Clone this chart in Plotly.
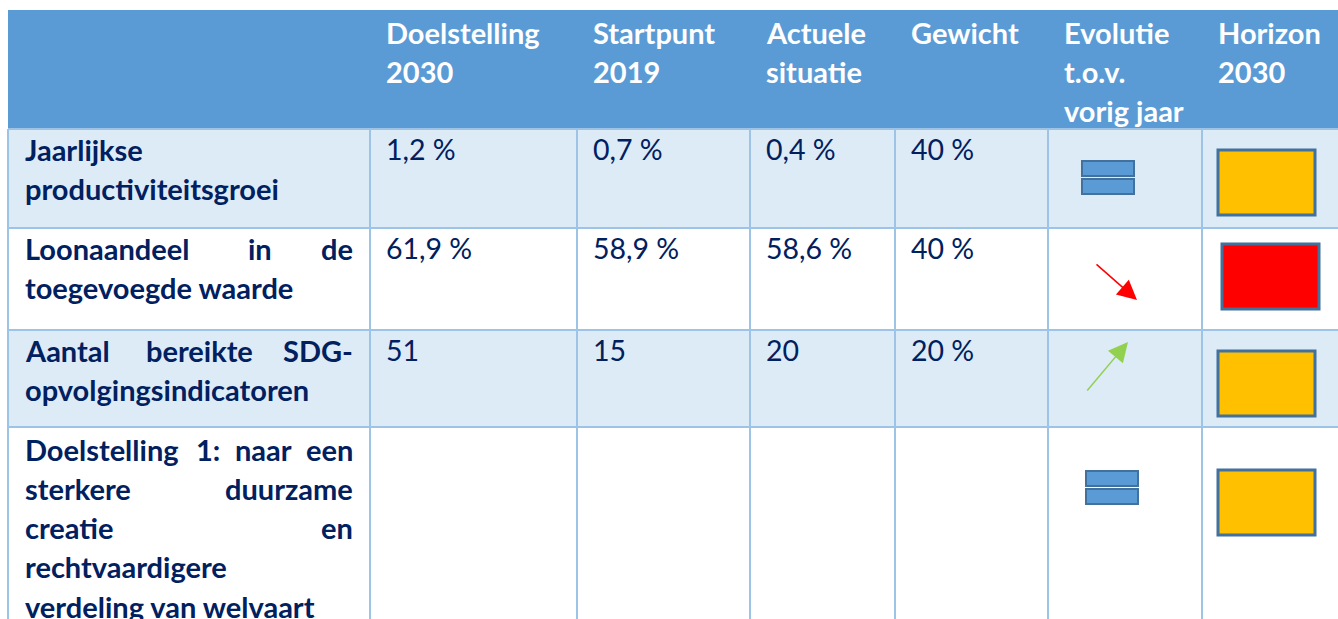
import plotly.graph_objects as go

# ---------------- data ----------------
headers = [
    "",
    ["Doelstelling", "2030"],
    ["Startpunt", "2019"],
    ["Actuele", "situatie"],
    ["Gewicht"],
    ["Evolutie", "t.o.v.", "vorig jaar"],
    ["Horizon", "2030"],
]
indicators = [
    ["Jaarlijkse", "productiviteitsgroei"],
    ["Loonaandeel in de", "toegevoegde waarde"],
    ["Aantal bereikte SDG-", "opvolgingsindicatoren"],
    ["Doelstelling 1: naar een", "sterkere duurzame", "creatie en",
     "rechtvaardigere", "verdeling van welvaart"],
]
# which label lines are justified (not paragraph ends)
justified = [
    [False, False],
    [True, False],
    [True, False],
    [True, True, True, False, False],
]
doelstelling_2030 = ["1,2 %", "61,9 %", "51", ""]
startpunt_2019 = ["0,7 %", "58,9 %", "15", ""]
actuele_situatie = ["0,4 %", "58,6 %", "20", ""]
gewicht = ["40 %", "40 %", "20 %", ""]
evolutie = ["gelijk", "daling", "stijging", "gelijk"]
horizon = ["oranje", "rood", "oranje", "oranje"]

# ---------------- styling / layout ----------------
W, H = 1338, 619
HEADER_BG = "#5B9BD5"
BAND_BG = "#DDEBF7"
GRID = "#9DC3E6"
NAVY = "#002060"
FONT = "Lato"
FS = 29
FS_VAL = 28.5

col_edges = [8, 370, 577, 750, 895, 1048, 1202, 1345]
row_edges = [10, 129, 228, 330, 427, 640]
row_bg = [BAND_BG, "white", BAND_BG, "white"]
row_text_off = [20, 20, 20, 22]
line_h = 39.3
pad_x = 14
horizon_colors = {"oranje": "#FFC000", "rood": "#FF0000"}

shapes = []
annotations = []

# header
shapes.append(dict(type="rect", x0=col_edges[0], x1=col_edges[-1], y0=row_edges[0], y1=row_edges[1],
                   fillcolor=HEADER_BG, line_width=0, layer="below"))
for ci, h in enumerate(headers):
    if not h:
        continue
    for li, t in enumerate(h):
        annotations.append(dict(x=col_edges[ci] + pad_x, y=row_edges[0] + 22 + li * line_h, text=f"<b>{t}</b>",
                                xanchor="left", yanchor="middle", showarrow=False,
                                font=dict(family=FONT, size=FS, color="white")))

# body rows backgrounds
for ri in range(len(indicators)):
    shapes.append(dict(type="rect", x0=col_edges[0], x1=col_edges[-1], y0=row_edges[ri + 1], y1=row_edges[ri + 2],
                       fillcolor=row_bg[ri], line_width=0, layer="below"))

# grid lines
for y in row_edges[1:-1]:
    shapes.append(dict(type="line", x0=col_edges[0], x1=col_edges[-1], y0=y, y1=y,
                       line=dict(color=GRID, width=2)))
for x in col_edges[:-1]:
    shapes.append(dict(type="line", x0=x, x1=x, y0=row_edges[1], y1=row_edges[-1],
                       line=dict(color=GRID, width=2)))


def est_width(word, size):
    w = 0
    for ch in word:
        if ch in "ijl:,.'-":
            w += 0.27
        elif ch in "frt":
            w += 0.38
        elif ch in "mw":
            w += 0.84
        elif ch.isupper():
            w += 0.68
        else:
            w += 0.56
    return w * size


# label column
for ri, lines in enumerate(indicators):
    top = row_edges[ri + 1]
    x0 = col_edges[0] + 15
    x1 = col_edges[1] - 15
    for li, line in enumerate(lines):
        y = top + row_text_off[ri] + li * line_h
        words = line.split(" ")
        if justified[ri][li] and len(words) > 1:
            widths = [est_width(w, FS) for w in words]
            gap = (x1 - x0 - sum(widths)) / (len(words) - 1)
            pos = x0
            for wi, w in enumerate(words):
                if wi == 0:
                    annotations.append(dict(x=x0, y=y, text=f"<b>{w}</b>", xanchor="left"))
                elif wi == len(words) - 1:
                    annotations.append(dict(x=x1, y=y, text=f"<b>{w}</b>", xanchor="right"))
                else:
                    annotations.append(dict(x=pos + widths[wi] / 2, y=y, text=f"<b>{w}</b>", xanchor="center"))
                pos += widths[wi] + gap
        else:
            annotations.append(dict(x=x0, y=y, text=f"<b>{line}</b>", xanchor="left"))

for a in annotations:
    a.setdefault("yanchor", "middle")
    a.setdefault("showarrow", False)
    a.setdefault("font", dict(family=FONT, size=FS, color=NAVY))

# value columns
value_cols = [doelstelling_2030, startpunt_2019, actuele_situatie, gewicht]
for ci, vals in enumerate(value_cols, start=1):
    for ri, v in enumerate(vals):
        if v:
            annotations.append(dict(x=col_edges[ci] + pad_x, y=row_edges[ri + 1] + 20, text=v,
                                    xanchor="left", yanchor="middle", showarrow=False,
                                    font=dict(family=FONT, size=FS_VAL, color=NAVY)))

# evolution symbols
ex0 = col_edges[5]
for ri, e in enumerate(evolutie):
    top = row_edges[ri + 1]
    if e == "gelijk":
        cx = ex0 + 60 + (4 if ri == 3 else 0)
        cy = top + (49 if ri < 3 else 61)
        for (a, b) in [(cy - 17, cy - 2), (cy + 1, cy + 16)]:
            shapes.append(dict(type="rect", x0=cx - 26, x1=cx + 26, y0=a, y1=b,
                               fillcolor="#5B9BD5", line=dict(color="#41719C", width=2)))
    elif e == "daling":
        annotations.append(dict(x=ex0 + 89, y=top + 72, ax=ex0 + 47, ay=top + 35,
                                xref="x", yref="y", axref="x", ayref="y", text="",
                                showarrow=True, arrowhead=2, arrowsize=2.6, arrowwidth=1.5,
                                arrowcolor="#FF0000"))
    elif e == "stijging":
        annotations.append(dict(x=ex0 + 80, y=top + 12, ax=ex0 + 38, ay=top + 62,
                                xref="x", yref="y", axref="x", ayref="y", text="",
                                showarrow=True, arrowhead=2, arrowsize=2.6, arrowwidth=1.5,
                                arrowcolor="#92D050"))

# horizon boxes
hx0 = col_edges[6]
for ri, hcol in enumerate(horizon):
    top = row_edges[ri + 1]
    dx = 20 if hcol == "rood" else 16
    dy = 16 if ri == 1 else (21 if ri < 3 else 43)
    shapes.append(dict(type="rect", x0=hx0 + dx, x1=hx0 + dx + 97, y0=top + dy, y1=top + dy + 65,
                       fillcolor=horizon_colors[hcol], line=dict(color="#41719C", width=3)))

fig = go.Figure()
fig.update_layout(
    width=W, height=H,
    margin=dict(l=0, r=0, t=0, b=0),
    paper_bgcolor="white", plot_bgcolor="white",
    xaxis=dict(range=[0, W], visible=False, fixedrange=True),
    yaxis=dict(range=[H, 0], visible=False, fixedrange=True),
    shapes=shapes, annotations=annotations,
    showlegend=False,
)
fig.write_html("out.html", config={"displayModeBar": False, "staticPlot": True},
               post_script="document.body.style.margin='0';document.body.style.overflow='hidden';")
